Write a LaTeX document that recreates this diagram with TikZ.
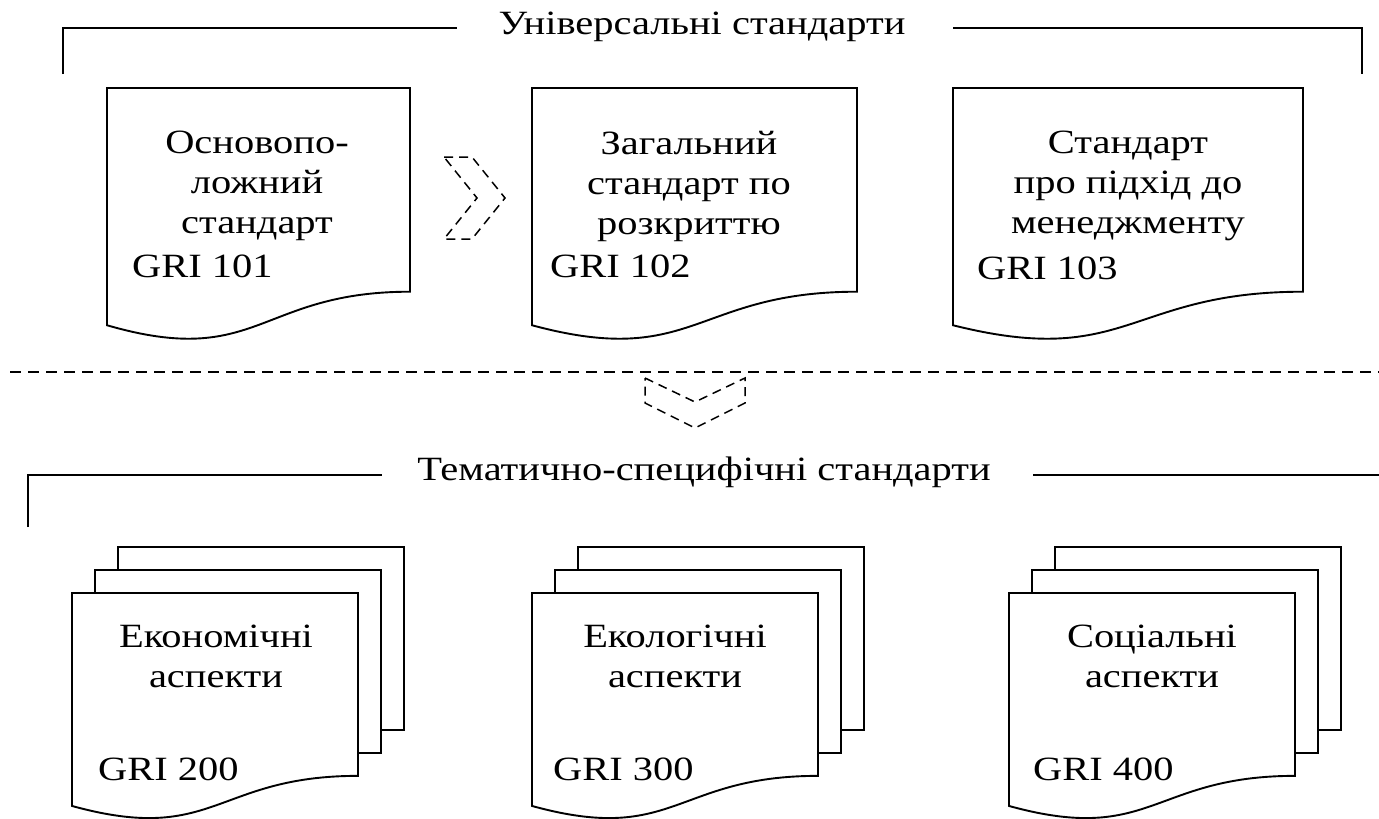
\documentclass[tikz,border=0pt]{standalone}
\usepackage{fontspec}
\setmainfont{Liberation Serif}[FakeStretch=1.19]

\begin{document}
\begin{tikzpicture}[x=1pt,y=-1pt]
 \tikzset{
  bracket/.style={line width=1.9pt},
  sheet/.style={line width=1.9pt, fill=white},
  chevron/.style={line width=1.5pt, dash pattern=on 9pt off 6pt},
  divider/.style={line width=1.5pt, dash pattern=on 11pt off 7pt},
  head/.style={font=\fontsize{34}{40}\selectfont, inner sep=0pt},
  doc text/.style={font=\fontsize{34}{40}\selectfont, align=center,
    inner sep=0pt, anchor=north},
  gri/.style={font=\fontsize{34}{40}\selectfont, inner sep=0pt,
    anchor=base west},
  pics/paper/.style 2 args={code={
    \draw[sheet] (0,0) -- (#1,0) -- (#1,0.802*#2)
      .. controls (0.5*#1,0.802*#2) and (0.5*#1,1.107*#2) .. (0,0.934*#2) -- cycle;
  }},
  pics/stack/.style={code={
    \draw[sheet, fill=none] (46,-23) |- (332,-46) -- (332,137) -- (309,137);
    \draw[sheet, fill=none] (23,0) |- (309,-23) -- (309,160) -- (286,160);
    \pic {paper={286}{228}};
  }}
 }
\useasboundingbox (0,0) rectangle (1379,819);

% universal standards
\node[head] (univ) at (702,27) {Універсальні стандарти};
\draw[bracket] (63,74) |- (457,28);
\draw[bracket] (953,28) -| (1362,74);

\pic at (107,88) {paper={303}{254}};
\pic at (532,88) {paper={325}{254}};
\pic at (953,88) {paper={350}{254}};
\node[doc text] (found) at (257,131) {Основопо-\\ложний\\стандарт};
\node[doc text] (general) at (689,131) {Загальний\\стандарт по\\розкриттю};
\node[doc text] (mgmt) at (1128,131) {Стандарт\\про підхід до\\менеджменту};
\node[gri] (g101) at (132,277) {GRI 101};
\node[gri] (g102) at (550,277) {GRI 102};
\node[gri] (g103) at (977,279) {GRI 103};

\draw[chevron] (444,157) -- (472,157) -- (505,198) -- (472,239) -- (444,239)
  -- (477,198) -- cycle;

% divider
\draw[divider] (10,372) -- (1379,372);
\draw[chevron] (645,378) -- (695,402) -- (745,378) -- (745,403) -- (695,428)
  -- (645,403) -- cycle;

% topic-specific standards
\node[head] (topic) at (704,472) {Тематично-специфічні стандарти};
\draw[bracket] (28,527) |- (382,475);
\draw[bracket] (1033,475) -- (1379,475);

\pic at (72,593) {stack};
\pic at (532,593) {stack};
\pic at (1009,593) {stack};
\node[doc text] (econ) at (216,625) {Економічні\\аспекти};
\node[doc text] (ecol) at (675,625) {Екологічні\\аспекти};
\node[doc text] (soc) at (1152,625) {Соціальні\\аспекти};
\node[gri] (g200) at (98,780) {GRI 200};
\node[gri] (g300) at (553,780) {GRI 300};
\node[gri] (g400) at (1033,780) {GRI 400};
\end{tikzpicture}
\end{document}
